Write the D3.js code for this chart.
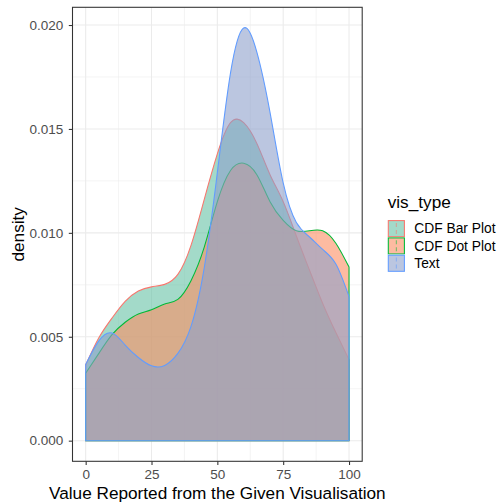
<!DOCTYPE html>
<html>
<head>
<meta charset="utf-8">
<script src="https://cdn.jsdelivr.net/npm/d3@7"></script>
<style>
  body { margin: 0; background: #fff; }
  text { font-family: "Liberation Sans", Arial, Helvetica, sans-serif; }
</style>
</head>
<body>
<svg id="chart" width="500" height="504"></svg>
<script>
// Kernel density estimates of reported values, sampled every 5 units
const reportedValue = [0, 5, 10, 15, 20, 25, 30, 35, 40, 45, 50, 55, 60, 65, 70, 75, 80, 85, 90, 95, 100];
const cdfBarPlot = [0.00364, 0.00495, 0.00590, 0.00670, 0.00720, 0.00740, 0.00752, 0.00800, 0.00940, 0.01160, 0.01380, 0.01530, 0.01530, 0.01430, 0.01280, 0.01150, 0.00985, 0.00820, 0.00660, 0.00520, 0.00390];
const cdfDotPlot = [0.00324, 0.00420, 0.00510, 0.00570, 0.00610, 0.00630, 0.00658, 0.00680, 0.00770, 0.00930, 0.01150, 0.01300, 0.01335, 0.01280, 0.01150, 0.01060, 0.01010, 0.01010, 0.01010, 0.00950, 0.00835];
const textVis    = [0.00366, 0.00480, 0.00518, 0.00460, 0.00400, 0.00360, 0.00362, 0.00420, 0.00550, 0.00830, 0.01290, 0.01770, 0.01986, 0.01870, 0.01580, 0.01240, 0.01050, 0.00980, 0.00920, 0.00850, 0.00693];

const visTypes = ["CDF Bar Plot", "CDF Dot Plot", "Text"];
const seriesValues = [cdfBarPlot, cdfDotPlot, textVis];
const fillColors = ["#66C2A5", "#FC8D62", "#8DA0CB"];
const lineColors = ["#F8766D", "#00BA38", "#619CFF"];

const xTicks = [0, 25, 50, 75, 100];
const xMinor = [12.5, 37.5, 62.5, 87.5];
const yTicks = [0, 0.005, 0.010, 0.015, 0.020];
const yMinor = [0.0025, 0.0075, 0.0125, 0.0175];

const svg = d3.select("#chart");
const panel = { left: 72.5, right: 362.2, top: 7.3, bottom: 461.3 };

// 5% expansion on both axes
const xExt = d3.extent(reportedValue);
const xPad = (xExt[1] - xExt[0]) * 0.05;
const x = d3.scaleLinear().domain([xExt[0] - xPad, xExt[1] + xPad]).range([panel.left, panel.right]);

const yMax = d3.max(seriesValues, s => d3.max(s));
const yPad = yMax * 0.05;
const y = d3.scaleLinear().domain([-yPad, yMax + yPad]).range([panel.bottom, panel.top]);

svg.append("rect").attr("width", 500).attr("height", 504).attr("fill", "#fff");

// grid
const grid = svg.append("g");
grid.selectAll(".xminor").data(xMinor).join("line")
  .attr("x1", d => x(d)).attr("x2", d => x(d))
  .attr("y1", panel.top).attr("y2", panel.bottom)
  .attr("stroke", "#EBEBEB").attr("stroke-width", 0.53);
grid.selectAll(".yminor").data(yMinor).join("line")
  .attr("x1", panel.left).attr("x2", panel.right)
  .attr("y1", d => y(d)).attr("y2", d => y(d))
  .attr("stroke", "#EBEBEB").attr("stroke-width", 0.53);
grid.selectAll(".xmajor").data(xTicks).join("line")
  .attr("x1", d => x(d)).attr("x2", d => x(d))
  .attr("y1", panel.top).attr("y2", panel.bottom)
  .attr("stroke", "#EBEBEB").attr("stroke-width", 1.07);
grid.selectAll(".ymajor").data(yTicks).join("line")
  .attr("x1", panel.left).attr("x2", panel.right)
  .attr("y1", d => y(d)).attr("y2", d => y(d))
  .attr("stroke", "#EBEBEB").attr("stroke-width", 1.07);

// density areas, drawn in group order with outlines
const area = d3.area()
  .x(d => x(d[0]))
  .y0(y(0))
  .y1(d => y(d[1]))
  .curve(d3.curveNatural);

const areas = svg.append("g");
seriesValues.forEach((vals, i) => {
  const pts = reportedValue.map((v, j) => [v, vals[j]]);
  areas.append("path")
    .attr("d", area(pts) + "Z")
    .attr("fill", fillColors[i])
    .attr("fill-opacity", 0.6)
    .attr("stroke", lineColors[i])
    .attr("stroke-width", 1.07)
    .attr("stroke-linejoin", "round");
});

// panel border
svg.append("rect")
  .attr("x", panel.left).attr("y", panel.top)
  .attr("width", panel.right - panel.left).attr("height", panel.bottom - panel.top)
  .attr("fill", "none").attr("stroke", "#333333").attr("stroke-width", 1.07);

// axes
const xAxis = svg.append("g").attr("transform", `translate(0,${panel.bottom})`)
  .call(d3.axisBottom(x).tickValues(xTicks).tickSize(3.7).tickPadding(4.3).tickFormat(d3.format("d")));
const yAxis = svg.append("g").attr("transform", `translate(${panel.left},0)`)
  .call(d3.axisLeft(y).tickValues(yTicks).tickSize(3.7).tickPadding(5.5).tickFormat(d3.format(".3f")));
[xAxis, yAxis].forEach(a => {
  a.select(".domain").remove();
  a.selectAll(".tick line").attr("stroke", "#333333").attr("stroke-width", 1.07);
  a.selectAll(".tick text").attr("fill", "#4D4D4D").style("font-size", "13.5px")
    .style("font-family", '"Liberation Sans", Arial, sans-serif');
});

// axis titles
svg.append("text")
  .attr("x", (panel.left + panel.right) / 2).attr("y", 498.5)
  .attr("text-anchor", "middle").style("font-size", "17.2px").attr("fill", "#000")
  .text("Value Reported from the Given Visualisation");
svg.append("text")
  .attr("transform", `translate(23.5,${(panel.top + panel.bottom) / 2}) rotate(-90)`)
  .attr("text-anchor", "middle").style("font-size", "17.2px").attr("fill", "#000")
  .text("density");

// legend
const legend = svg.append("g").attr("transform", "translate(387.7,220)");
legend.append("text").attr("x", 0).attr("y", -12).style("font-size", "17.2px").attr("fill", "#000").text("vis_type");
const keySize = 17.3;
visTypes.forEach((name, i) => {
  const g = legend.append("g").attr("transform", `translate(0,${i * keySize})`);
  g.append("rect").attr("width", keySize).attr("height", keySize).attr("fill", "#fff");
  g.append("rect")
    .attr("x", 0.6).attr("y", 0.6).attr("width", keySize - 1.2).attr("height", keySize - 1.2)
    .attr("fill", fillColors[i]).attr("fill-opacity", 0.6)
    .attr("stroke", lineColors[i]).attr("stroke-width", 1.07);
  g.append("line")
    .attr("x1", keySize / 2).attr("x2", keySize / 2).attr("y1", 3).attr("y2", keySize - 2)
    .attr("stroke", lineColors[i]).attr("stroke-opacity", 0.55).attr("stroke-width", 1.07)
    .attr("stroke-dasharray", "4,3");
  g.append("text").attr("x", 26.6).attr("y", keySize / 2).attr("dy", "0.35em")
    .style("font-size", "13.8px").attr("fill", "#000").text(name);
});
</script>
</body>
</html>
